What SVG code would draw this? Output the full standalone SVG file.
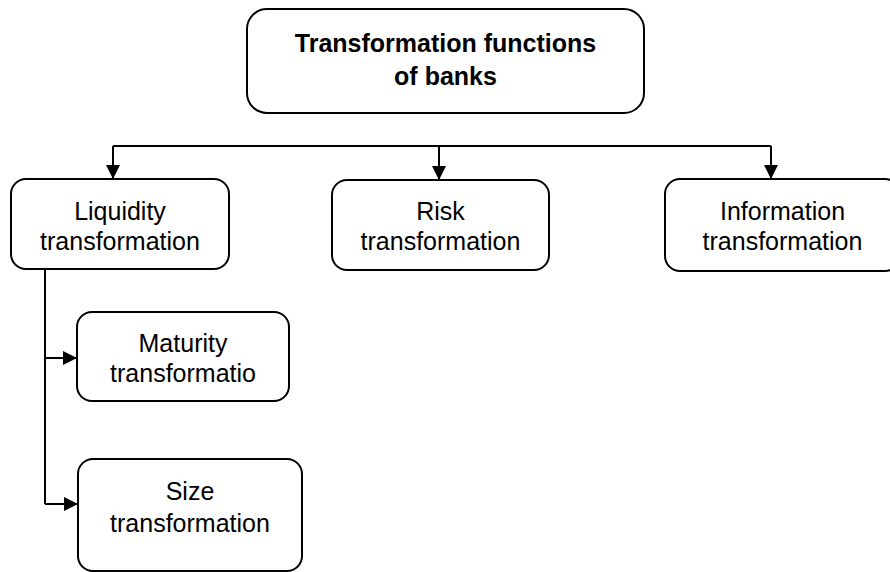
<svg xmlns="http://www.w3.org/2000/svg" width="890" height="572" viewBox="0 0 890 572">
  <defs>
    <marker id="arrow" viewBox="0 0 14 14" refX="14" refY="7" markerWidth="14" markerHeight="14" markerUnits="userSpaceOnUse" orient="auto">
      <path d="M0,0 L14,7 L0,14 Z" fill="#000"/>
    </marker>
  </defs>
  <style>
    .box { fill: #fff; stroke: #000; stroke-width: 2; }
    .lbl { font-family: "Liberation Sans", Arial, sans-serif; font-size: 25px; fill: #000; text-anchor: middle; }
    .title { font-weight: bold; font-size: 25px; }
    .edge { fill: none; stroke: #000; stroke-width: 2; }
  </style>
  <rect width="890" height="572" fill="#fff"/>

  <g id="connectors">
    <path class="edge" d="M113,146 H771"/>
    <path class="edge" d="M113,146 V179" marker-end="url(#arrow)"/>
    <path class="edge" d="M439,146 V180" marker-end="url(#arrow)"/>
    <path class="edge" d="M771,146 V179" marker-end="url(#arrow)"/>
    <path class="edge" d="M45,269 V504"/>
    <path class="edge" d="M45,358 H77" marker-end="url(#arrow)"/>
    <path class="edge" d="M45,504 H78" marker-end="url(#arrow)"/>
  </g>

  <g id="root">
    <rect class="box" x="247" y="9" width="397" height="104" rx="20"/>
    <text class="lbl title" x="445.5" y="52">Transformation functions</text>
    <text class="lbl title" x="445.5" y="85">of banks</text>
  </g>

  <g id="liquidity">
    <rect class="box" x="11" y="179" width="218" height="90" rx="15"/>
    <text class="lbl" x="120" y="220">Liquidity</text>
    <text class="lbl" x="120" y="250">transformation</text>
  </g>

  <g id="risk">
    <rect class="box" x="332" y="180" width="217" height="90" rx="15"/>
    <text class="lbl" x="440.5" y="220">Risk</text>
    <text class="lbl" x="440.5" y="250">transformation</text>
  </g>

  <g id="information">
    <rect class="box" x="665" y="179" width="235" height="92" rx="15"/>
    <text class="lbl" x="782.5" y="220">Information</text>
    <text class="lbl" x="782.5" y="250">transformation</text>
  </g>

  <g id="maturity">
    <rect class="box" x="77" y="312" width="212" height="89" rx="15"/>
    <text class="lbl" x="183" y="352">Maturity</text>
    <text class="lbl" x="183" y="382">transformatio</text>
  </g>

  <g id="size">
    <rect class="box" x="78" y="459" width="224" height="112" rx="15"/>
    <text class="lbl" x="190" y="500">Size</text>
    <text class="lbl" x="190" y="532">transformation</text>
  </g>
</svg>
